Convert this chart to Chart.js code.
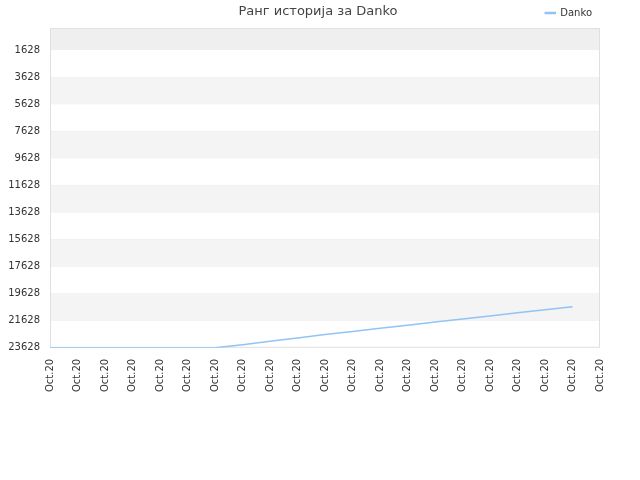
<!DOCTYPE html>
<html><head><meta charset="utf-8">
<script src="https://cdn.jsdelivr.net/npm/chart.js"></script>
<style>body{margin:0;background:#fff}#w{width:640px;height:480px}</style>
</head><body><div id="w"><canvas id="c"></canvas></div>
<script>
const labels = Array(21).fill('Oct.20');
const danko = [23628,23628,23628,23628,23628,23628,23628,23400,23150,22900,22650,22420,22190,21960,21730,21500,21270,21040,20810,20600,null];
const tickVals = [1628,3628,5628,7628,9628,11628,13628,15628,17628,19628,21628,23628];
const bands = {id:'bands',beforeDatasetsDraw(ch){
  const {ctx,chartArea:a,scales:{y}}=ch;ctx.save();
  const edges=[0].concat(tickVals);
  for(let i=0;i<edges.length-1;i++){
    const t=y.getPixelForValue(edges[i]),b=y.getPixelForValue(edges[i+1]);
    ctx.fillStyle = i===0?'#efefef':(i%2===0?'#f4f4f4':'#ffffff');
    ctx.fillRect(a.left,t,a.right-a.left,b-t);
  }
  ctx.strokeStyle='#e0e0e0';ctx.lineWidth=1;ctx.strokeRect(a.left+0.5,a.top+0.5,a.right-a.left-1,a.bottom-a.top-1);
  ctx.restore();}};
const titleP = {id:'ttl',afterDraw(ch){const c=ch.ctx;c.save();c.font='13px "DejaVu Sans"';c.fillStyle='#444';c.textAlign='center';c.textBaseline='middle';c.fillText('Ранг историја за Danko',318,12);c.restore();}};
new Chart(document.getElementById('c'),{type:'line',
 data:{labels,datasets:[{label:'Danko',data:danko,borderColor:'#90c4f4',backgroundColor:'#90c4f4',borderWidth:1.5,pointRadius:0,tension:0,fill:false}]},
 options:{responsive:true,maintainAspectRatio:false,animation:false,
  layout:{padding:{left:0,right:40,top:0,bottom:85}},
  plugins:{title:{display:false},
   legend:{position:'top',align:'end',labels:{boxWidth:10,boxHeight:1,padding:8,color:'#333',font:{size:10,family:'DejaVu Sans'}}}},
  scales:{x:{offset:false,grid:{display:false},border:{display:false},ticks:{color:'#333',maxRotation:90,minRotation:90,autoSkip:false,font:{size:10,family:'DejaVu Sans'}}},
   y:{reverse:true,min:0,max:23628,afterBuildTicks(s){s.ticks=tickVals.map(v=>({value:v}));},
    afterFit(s){s.width=50;},
    border:{display:false},grid:{color:'#e0e0e0',drawTicks:false},ticks:{padding:10,color:'#333',callback:v=>String(v),font:{size:10,family:'DejaVu Sans'}}}}},
 plugins:[bands,titleP]});
</script></body></html>
